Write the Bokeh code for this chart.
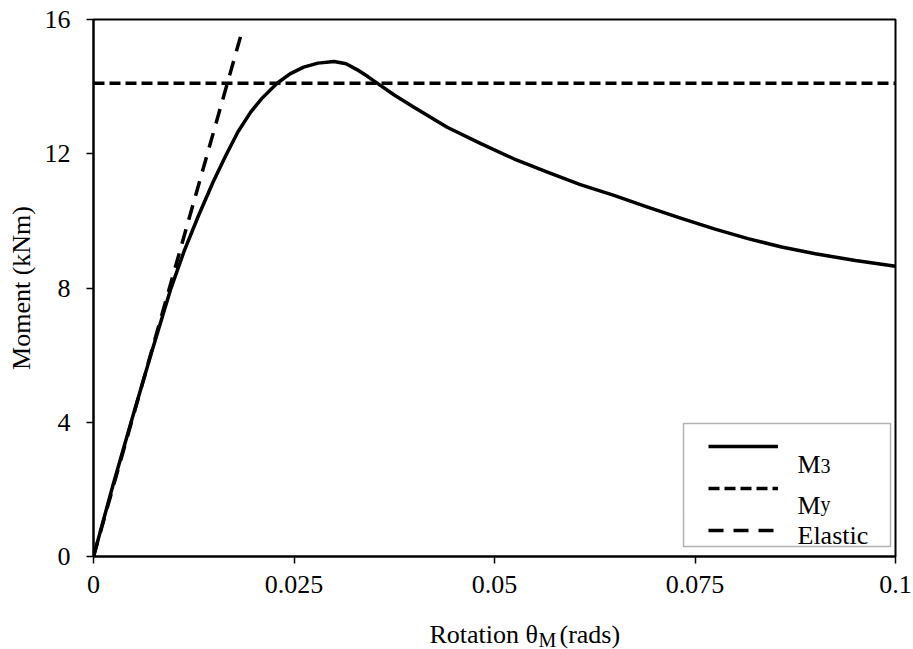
from bokeh.plotting import figure
from bokeh.layouts import column
from bokeh.models import Range1d, FixedTicker, Label, Legend, LegendItem, BoxAnnotation
from bokeh.embed import file_html
from bokeh.resources import INLINE

# ---- data ----
m3_x = [0, 0.0024, 0.0048, 0.0072, 0.0096, 0.0113, 0.0131, 0.0149, 0.0165, 0.0180,
        0.0196, 0.0210, 0.0229, 0.0245, 0.0262, 0.0280, 0.0300, 0.0315, 0.0329, 0.0342,
        0.0355, 0.0375, 0.0399, 0.0441, 0.0483, 0.0524, 0.0566, 0.0607, 0.0649, 0.0690,
        0.0732, 0.0774, 0.0816, 0.0858, 0.0900, 0.0950, 0.1]
m3_y = [0, 2.1, 4.1, 6.05, 7.95, 9.1, 10.16, 11.15, 11.95, 12.65,
        13.24, 13.65, 14.1, 14.38, 14.58, 14.7, 14.75, 14.68, 14.5, 14.3,
        14.08, 13.75, 13.39, 12.79, 12.30, 11.85, 11.45, 11.08, 10.76, 10.42,
        10.08, 9.76, 9.47, 9.22, 9.02, 8.82, 8.65]
my_x = [0, 0.1]
my_y = [14.1, 14.1]
el_x = [0, 0.0185]
el_y = [0, 15.63]

x_ticks = [0, 0.025, 0.05, 0.075, 0.1]
x_tick_labels = ["0", "0.025", "0.05", "0.075", "0.1"]
y_ticks = [0, 4, 8, 12, 16]
y_tick_labels = ["0", "4", "8", "12", "16"]

FONT = "Liberation Serif"
FS = "26px"
SUB = "20px"

p = figure(width=913, height=612, x_range=Range1d(0, 0.1), y_range=Range1d(0, 16),
           output_backend="svg", toolbar_location=None,
           min_border_left=93, min_border_right=18, min_border_top=19, min_border_bottom=56)

p.xgrid.visible = False
p.ygrid.visible = False
p.outline_line_color = "black"
p.outline_line_width = 2
p.background_fill_color = "white"
p.border_fill_color = "white"

for ax in (p.xaxis[0], p.yaxis[0]):
    ax.axis_line_color = "black"
    ax.axis_line_width = 2
    ax.major_tick_line_color = "black"
    ax.major_tick_line_width = 1.5
    ax.major_tick_out = 7
    ax.major_tick_in = 0
    ax.minor_tick_line_color = None
    ax.major_label_text_font = FONT
    ax.major_label_text_font_size = FS
    ax.major_label_text_color = "black"

p.xaxis.ticker = FixedTicker(ticks=x_ticks)
p.xaxis.major_label_overrides = {t: l for t, l in zip(x_ticks, x_tick_labels)}
p.xaxis.major_label_standoff = 12
p.yaxis.ticker = FixedTicker(ticks=y_ticks)
p.yaxis.major_label_overrides = {t: l for t, l in zip(y_ticks, y_tick_labels)}
p.yaxis.major_label_standoff = 16

p.yaxis.axis_label = "Moment (kNm)"
p.yaxis.axis_label_text_font = FONT
p.yaxis.axis_label_text_font_size = FS
p.yaxis.axis_label_text_font_style = "normal"
p.yaxis.axis_label_text_color = "black"
p.yaxis.axis_label_standoff = 6

r_m3 = p.line(m3_x, m3_y, line_color="black", line_width=3.5, line_join="round")
r_my = p.line(my_x, my_y, line_color="black", line_width=3.5, line_dash="11 5")
r_el = p.line(el_x, el_y, line_color="black", line_width=3.5, line_dash="15 10")

# legend frame
p.add_layout(BoxAnnotation(left=0.07357, right=0.09938, bottom=0.298, top=3.963,
                           fill_color="white", fill_alpha=1,
                           line_color="black", line_width=1.5))

legend = Legend(items=[LegendItem(label=" ", renderers=[r_m3]),
                       LegendItem(label=" ", renderers=[r_my]),
                       LegendItem(label=" ", renderers=[r_el])],
                location=(615, 11), glyph_width=70, glyph_height=30, label_height=30,
                spacing=12, padding=5, label_standoff=0, label_width=1,
                border_line_color=None, background_fill_alpha=0,
                label_text_font=FONT, label_text_font_size="1px")
p.add_layout(legend)

# legend texts
def lab(x, y, text, size):
    p.add_layout(Label(x=x, y=y, text=text, text_font=FONT, text_font_size=size,
                       text_align="left", text_baseline="alphabetic", text_color="black"))

lab(0.08778, 2.741, "M", FS)
lab(0.09065, 2.70, "3", SUB)
lab(0.08778, 1.52, "M", FS)
lab(0.09065, 1.55, "y", SUB)
lab(0.08778, 0.626, "Elastic", FS)

# x-axis title strip (below the plot) with subscript
p2 = figure(width=913, height=37, x_range=Range1d(0, 913), y_range=Range1d(0, 37),
            x_axis_type=None, y_axis_type=None,
            output_backend="svg", toolbar_location=None,
            min_border_left=0, min_border_right=0, min_border_top=0, min_border_bottom=0)
p2.grid.visible = False
p2.outline_line_color = None
p2.background_fill_color = "white"
p2.border_fill_color = "white"

p2.add_layout(Label(x=506, y=15, text="Rotation \u03b8", text_font=FONT, text_font_size=FS,
                    text_align="right", text_baseline="alphabetic", text_color="black"))
p2.add_layout(Label(x=506.5, y=10, text="M", text_font=FONT, text_font_size=SUB,
                    text_align="left", text_baseline="alphabetic", text_color="black"))
p2.add_layout(Label(x=530.5, y=15, text="(rads)", text_font=FONT, text_font_size=FS,
                    text_align="left", text_baseline="alphabetic", text_color="black"))

layout = column(p, p2, spacing=0)
open("out.html", "w").write(file_html(layout, INLINE))
